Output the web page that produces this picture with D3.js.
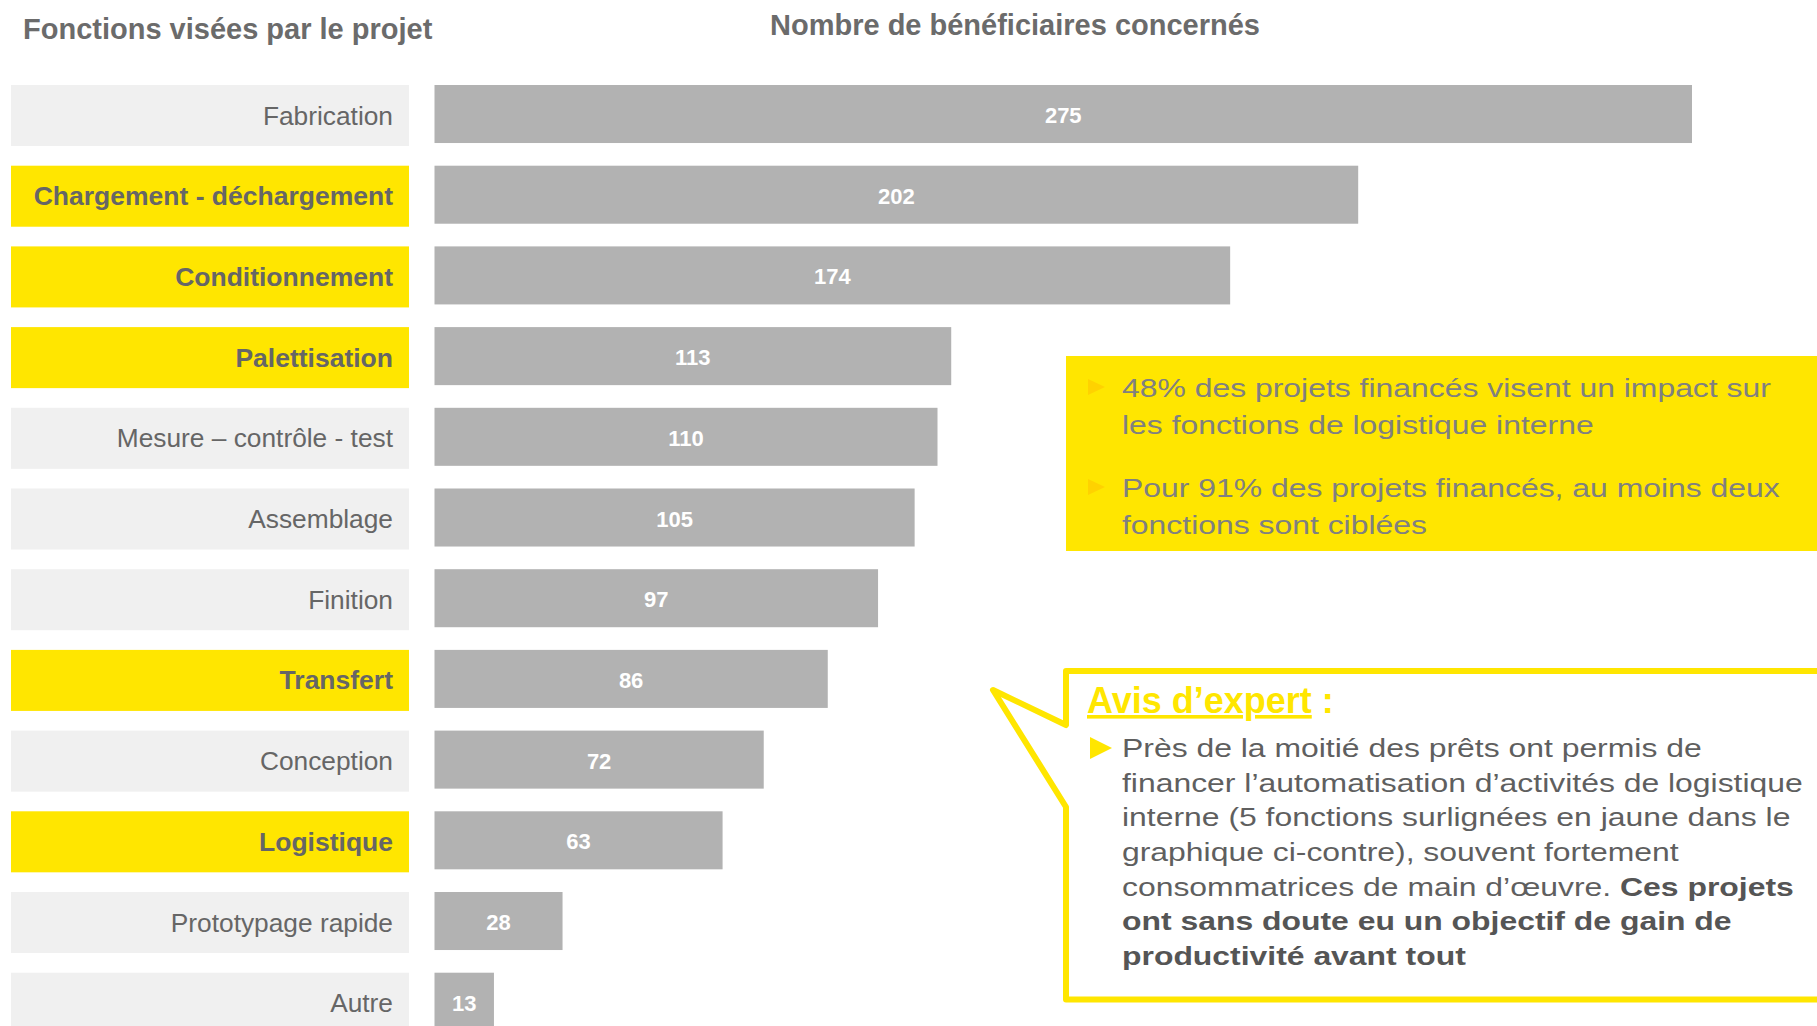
<!DOCTYPE html>
<html>
<head>
<meta charset="utf-8">
<script src="https://cdn.jsdelivr.net/npm/d3@7"></script>
<style>
  body { margin: 0; background: #fff; }
  svg { display: block; }
</style>
</head>
<body>
<div id="chart"></div>
<script>
// data
const categories = ["Fabrication", "Chargement - déchargement", "Conditionnement", "Palettisation",
  "Mesure – contrôle - test", "Assemblage", "Finition", "Transfert", "Conception", "Logistique",
  "Prototypage rapide", "Autre"]
const values = [275, 202, 174, 113, 110, 105, 97, 86, 72, 63, 28, 13]
const highlighted = ["Chargement - déchargement", "Conditionnement", "Palettisation", "Transfert", "Logistique"]

const leftTitle = "Fonctions visées par le projet"
const rightTitle = "Nombre de bénéficiaires concernés"

const keyFacts = [
  ["48% des projets financés visent un impact sur", "les fonctions de logistique interne"],
  ["Pour 91% des projets financés, au moins deux", "fonctions sont ciblées"]
]
const expertTitle = "Avis d’expert"
// each line is a list of [text, bold]
const expertLines = [
  [["Près de la moitié des prêts ont permis de", false]],
  [["financer l’automatisation d’activités de logistique", false]],
  [["interne (5 fonctions surlignées en jaune dans le", false]],
  [["graphique ci-contre), souvent fortement", false]],
  [["consommatrices de main d’œuvre. ", false], ["Ces projets", true]],
  [["ont sans doute eu un objectif de gain de", true]],
  [["productivité avant tout", true]]
]

const W = 1817
const H = 1026
const yellow = "#ffe600"
const grey = "#666666"
const font = "Liberation Sans, Arial, sans-serif"
// the side texts are set in a wide face: plain Arial stretched sideways
const stretch = 1.227

const svg = d3.select("#chart").append("svg")
  .attr("width", W)
  .attr("height", H)

const x = d3.scaleLinear()
  .domain([0, 275])
  .range([434.5, 1692])

const y = d3.scaleBand()
  .domain(categories)
  .range([85, 85 + 80.7 * (categories.length - 0.281)])
  .paddingInner(0.281)
  .paddingOuter(0)
  .align(0)

const rows = categories.map((c, i) => ({ name: c, value: values[i], hi: highlighted.includes(c) }))

// titles
svg.append("text")
  .attr("x", 23).attr("y", 39)
  .attr("font-family", font)
  .attr("font-size", 29).attr("font-weight", "bold")
  .attr("fill", "#6b6b6b")
  .text(leftTitle)

svg.append("text")
  .attr("x", 1015).attr("y", 35)
  .attr("text-anchor", "middle")
  .attr("font-family", font)
  .attr("font-size", 29).attr("font-weight", "bold")
  .attr("fill", "#6b6b6b")
  .text(rightTitle)

// category label boxes
svg.selectAll(".lab-box")
  .data(rows)
  .join("rect")
  .attr("class", "lab-box")
  .attr("x", 11)
  .attr("y", d => y(d.name))
  .attr("width", 398)
  .attr("height", y.bandwidth() + 3)
  .attr("fill", d => d.hi ? yellow : "#f0f0f0")

svg.selectAll(".lab")
  .data(rows)
  .join("text")
  .attr("class", "lab")
  .attr("x", 393)
  .attr("y", d => y(d.name) + y.bandwidth() / 2 + 10.5)
  .attr("text-anchor", "end")
  .attr("font-family", font)
  .attr("font-size", d => d.hi ? 26.5 : 26.3)
  .attr("font-weight", d => d.hi ? "bold" : "normal")
  .attr("fill", grey)
  .text(d => d.name)

// bars
svg.selectAll(".bar")
  .data(rows)
  .join("rect")
  .attr("class", "bar")
  .attr("x", x(0))
  .attr("y", d => y(d.name))
  .attr("width", d => x(d.value) - x(0))
  .attr("height", y.bandwidth())
  .attr("fill", "#b2b2b2")

svg.selectAll(".val")
  .data(rows)
  .join("text")
  .attr("class", "val")
  .attr("x", d => (x(0) + x(d.value)) / 2)
  .attr("y", d => y(d.name) + y.bandwidth() / 2 + 9)
  .attr("text-anchor", "middle")
  .attr("font-family", font)
  .attr("font-size", 22).attr("font-weight", "bold")
  .attr("fill", "#fff")
  .text(d => d.value)

// yellow key facts box
svg.append("rect")
  .attr("x", 1066).attr("y", 356)
  .attr("width", W - 1066).attr("height", 195)
  .attr("fill", yellow)

const factTops = [397, 497]
keyFacts.forEach((lines, i) => {
  const by = factTops[i]
  svg.append("path")
    .attr("d", `M1088,${by - 18}L1105,${by - 10}L1088,${by - 2}Z`)
    .attr("fill", "#ffd200")
  svg.append("g")
    .attr("transform", `translate(1122,0) scale(${stretch},1)`)
    .append("text")
    .attr("font-family", font)
    .attr("font-size", 26)
    .attr("fill", "#808080")
    .selectAll("tspan")
    .data(lines)
    .join("tspan")
    .attr("x", 0)
    .attr("y", (d, j) => by + j * 37)
    .text(d => d)
})

// expert callout bubble
svg.append("path")
  .attr("d", "M1066,725L1066,671L1830,671L1830,999.5L1066,999.5L1066,807L993,690Z")
  .attr("fill", "#fff")
  .attr("stroke", yellow)
  .attr("stroke-width", 6)
  .attr("stroke-linejoin", "round")

const et = svg.append("text")
  .attr("x", 1087).attr("y", 713)
  .attr("font-family", font)
  .attr("font-size", 36).attr("font-weight", "bold")
  .attr("fill", yellow)
et.append("tspan").attr("text-decoration", "underline").text(expertTitle)
et.append("tspan").text(" :")

svg.append("path")
  .attr("d", "M1090,737L1112,748L1090,759Z")
  .attr("fill", yellow)

const body = svg.append("g")
  .attr("transform", `translate(1122,0) scale(${stretch},1)`)
  .append("text")
  .attr("font-family", font)
  .attr("font-size", 26)
  .attr("fill", "#5f5f5f")

expertLines.forEach((parts, i) => {
  parts.forEach((p, k) => {
    const t = body.append("tspan")
      .attr("font-weight", p[1] ? "bold" : "normal")
      .attr("fill", p[1] ? "#555555" : "#5f5f5f")
      .text(p[0])
    if (k === 0) t.attr("x", 0).attr("y", 757 + i * 34.7)
  })
})
</script>
</body>
</html>
